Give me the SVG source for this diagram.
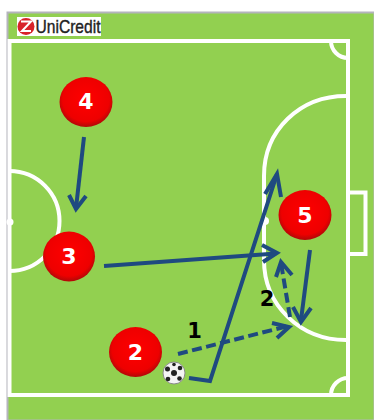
<svg xmlns="http://www.w3.org/2000/svg" width="374" height="420" viewBox="0 0 374 420">
<style>
.w{fill:none;stroke:#fff;stroke-width:4}
.a{fill:none;stroke:#1f4a80;stroke-width:4}
.d{stroke-dasharray:10 4.500}
.h{fill:none;stroke:#1f4a80;stroke-width:4;stroke-linejoin:miter}
.n{font:bold 22px "DejaVu Sans",sans-serif;fill:#fff;text-anchor:middle}
.l{font:bold 21px "DejaVu Sans",sans-serif;fill:#000;text-anchor:middle}
</style>
<defs>
<radialGradient id="r" cx="0.5" cy="0.45" r="0.55"><stop offset="0" stop-color="#f00"/><stop offset="0.8" stop-color="#ee0000"/><stop offset="1" stop-color="#b00808"/></radialGradient>
</defs>
<rect width="374" height="420" fill="#fff"/>
<rect x="7.500" y="12.500" width="367" height="408" fill="#92d050" stroke="#b4b4bc" stroke-width="2"/>
<g id="field">
<rect class="w" x="9.500" y="41" width="338.500" height="354"/>
<path class="w" d="M331 41A17 17 0 0 0 348 58M331 395A17 17 0 0 1 348 378"/>
<path class="w" d="M346 96C300 96 264 130 264 176L264 260C264 305 300 340 346 340"/>
<path class="w" d="M9.500 171A50 50 0 0 1 9.500 271"/>
<path class="w" d="M348 192.500H365.500V254H348"/>
<circle cx="265" cy="221" r="4" fill="#fff"/>
<circle cx="10" cy="222" r="3.500" fill="#fff"/>
</g>
<g id="logo">
<rect x="17" y="17" width="84" height="19" fill="#fff"/>
<circle cx="26" cy="26.500" r="8.500" fill="#d8232a"/>
<path d="M21 21.500H31L22 31H31" fill="none" stroke="#fff" stroke-width="2"/>
<text x="35.500" y="33" font-family="Liberation Sans, sans-serif" font-size="19" textLength="65" lengthAdjust="spacingAndGlyphs" fill="#222" stroke="#222" stroke-width="0.400">UniCredit</text>
</g>
<g id="connectors">
<path class="a" stroke-width="4.500" d="M84 137L76 208"/><path class="h" d="M69 195L76 209L86 196"/>
<path class="a" d="M104 266L276 253.500"/><path class="h" d="M262 245L277 253L263 262"/>
<path class="a" d="M310 250L301 320"/><path class="h" d="M293 307L301 322L311 308"/>
<path class="a" d="M189 378L210 381L277 174"/><path class="h" d="M265 194L277 174L281 197"/>
<path class="a d" d="M178 354L288 326"/><path class="h" d="M272 323L289 327L277 338"/>
<path class="a d" d="M290 317L281 263"/><path class="h" d="M276 277L281 262L292 275"/>
</g>
<g id="node-4"><ellipse cx="86" cy="102" rx="26.500" ry="25" fill="url(#r)"/><text class="n" x="86" y="109">4</text></g>
<g id="node-3"><ellipse cx="69" cy="256.500" rx="26" ry="25" fill="url(#r)"/><text class="n" x="69" y="264">3</text></g>
<g id="node-2"><ellipse cx="135.500" cy="352" rx="26.500" ry="25" fill="url(#r)"/><text class="n" x="135.500" y="360">2</text></g>
<g id="node-5"><ellipse cx="305" cy="215" rx="26.500" ry="25" fill="url(#r)"/><text class="n" x="305" y="223">5</text></g>
<g id="ball">
<circle cx="174" cy="373" r="11" fill="#f4f4f4" stroke="#8a8a8a" stroke-width="1"/>
<circle cx="174" cy="373" r="3" fill="#222"/><circle cx="167.500" cy="369" r="2.500" fill="#222"/><circle cx="180" cy="368" r="2.300" fill="#222"/><circle cx="179.500" cy="378.500" r="2.300" fill="#222"/><circle cx="168" cy="379" r="2.300" fill="#222"/><circle cx="174" cy="364.500" r="1.800" fill="#222"/>
</g>
<text class="l" x="194.500" y="338">1</text>
<text class="l" x="267" y="306">2</text>
</svg>
